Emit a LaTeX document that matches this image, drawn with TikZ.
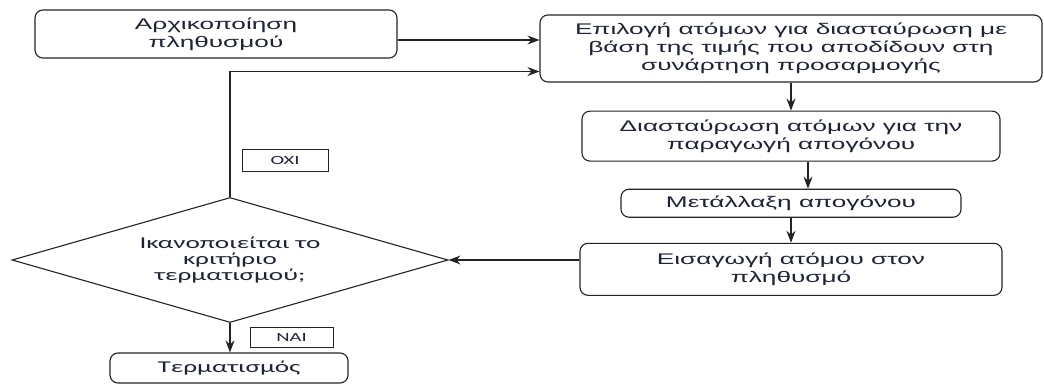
\documentclass[tikz,border=0pt]{standalone}
\usepackage{fontspec}
\setmainfont{Liberation Sans}[FakeStretch=1.7]
\newfontfamily\condfont{Carlito}[FakeStretch=1.65]
\usepackage{tikz}
\usetikzlibrary{arrows.meta,positioning,shapes.geometric}
\definecolor{ink}{RGB}{30,35,55}
\definecolor{edge}{RGB}{35,35,35}
\begin{document}
\begin{tikzpicture}[
 x=1pt,y=-1pt,
 box/.style={draw=edge,line width=1.1pt,rounded corners=8pt,align=center,text=ink,inner sep=2pt,font=\fontsize{15.4}{18}\selectfont},
 cond/.style={draw=edge,line width=1.1pt,diamond,aspect=3.5,align=center,text=ink,inner sep=0pt,minimum width=436pt,minimum height=125pt,font=\condfont\fontsize{16.5}{16}\selectfont},
 tag/.style={draw=edge,line width=1pt,text=ink,inner sep=0pt,font=\condfont\fontsize{12.5}{14}\selectfont},
 arrow/.style={-{Stealth[length=12pt,width=9pt,inset=4pt]},line width=1.1pt,draw=edge}
]
\useasboundingbox (0,0) rectangle (1044,383);
\node[box,minimum width=362pt,minimum height=48pt] (init) at (216,34) {Αρχικοποίηση\\πληθυσμού};
\node[box,minimum width=502pt,minimum height=67pt] (select) at (791,48.5) {Επιλογή ατόμων για διασταύρωση με\\βάση της τιμής που αποδίδουν στη\\συνάρτηση προσαρμογής};
\node[box,minimum width=418pt,minimum height=50pt,below=28pt of select] (cross) {Διασταύρωση ατόμων για την\\παραγωγή απογόνου};
\node[box,minimum width=340pt,minimum height=28pt,below=27pt of cross] (mutate) {Μετάλλαξη απογόνου};
\node[box,minimum width=422pt,minimum height=52pt,below=25pt of mutate] (insert) {Εισαγωγή ατόμου στον\\πληθυσμό};
\node[cond] (check) at (230,260) {Ικανοποιείται το\\κριτήριο\\τερματισμού;};
\node[box,minimum width=238pt,minimum height=30pt,font=\condfont\fontsize{16.5}{18}\selectfont] (stop) at (229,368) {Τερματισμός};
\node[tag,minimum width=86pt,minimum height=22pt] (no) at (285,160) {ΟΧΙ};
\node[tag,minimum width=83pt,minimum height=20pt] (yes) at (291.5,337) {ΝΑΙ};
\draw[arrow] ([yshift=-6pt]init.east) -- ([yshift=-6pt]init.east -| select.west);
\draw[arrow] (check.north) |- ([yshift=-23pt]select.west);
\draw[arrow] (select) -- (cross);
\draw[arrow] ([xshift=17pt]cross.south) -- ([xshift=17pt]mutate.north);
\draw[arrow] (mutate) -- (insert);
\draw[arrow] (check.east -| insert.west) -- (check.east);
\draw[arrow] (check.south) -- (check.south |- stop.north);
\end{tikzpicture}
\end{document}
